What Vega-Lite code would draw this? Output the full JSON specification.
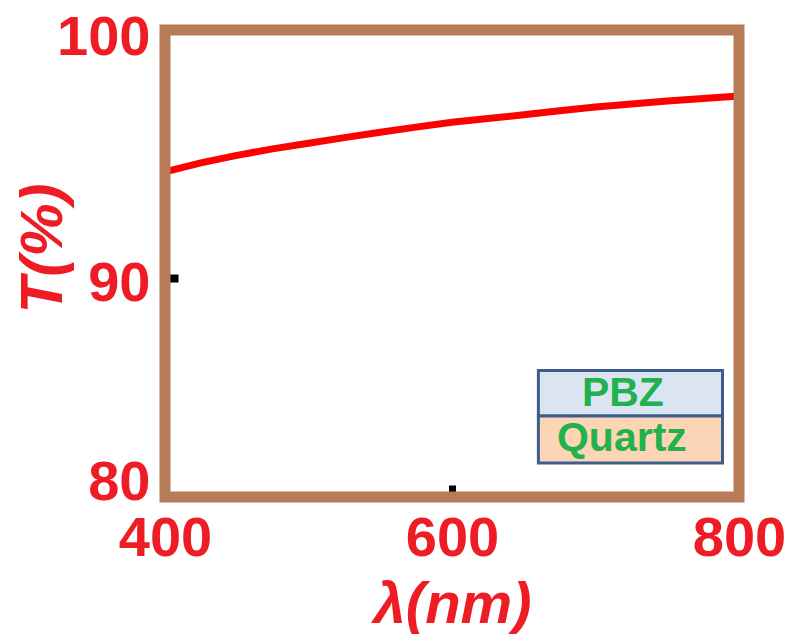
{
  "$schema": "https://vega.github.io/schema/vega-lite/v6.json",
  "autosize": "none",
  "width": 574,
  "height": 467,
  "padding": {"left": 165, "top": 30, "right": 65, "bottom": 137},
  "background": "white",
  "config": {"view": {"stroke": null}},
  "datasets": {
    "curve": [
      {"wavelength": 400, "T": 93.92},
      {"wavelength": 425, "T": 94.31},
      {"wavelength": 450, "T": 94.63},
      {"wavelength": 475, "T": 94.91},
      {"wavelength": 500, "T": 95.15},
      {"wavelength": 525, "T": 95.39},
      {"wavelength": 550, "T": 95.62},
      {"wavelength": 575, "T": 95.84},
      {"wavelength": 600, "T": 96.05},
      {"wavelength": 625, "T": 96.21},
      {"wavelength": 650, "T": 96.37},
      {"wavelength": 675, "T": 96.54},
      {"wavelength": 700, "T": 96.70},
      {"wavelength": 725, "T": 96.83},
      {"wavelength": 750, "T": 96.96},
      {"wavelength": 775, "T": 97.07},
      {"wavelength": 800, "T": 97.17}
    ],
    "box": [
      {"label": "PBZ", "x1": 660.2, "x2": 788.5, "y1": 83.47, "y2": 85.42, "tx": 719.1, "ty": 84.43},
      {"label": "Quartz", "x1": 660.2, "x2": 788.5, "y1": 81.46, "y2": 83.47, "tx": 718.4, "ty": 82.5}
    ]
  },
  "layer": [
    {
      "data": {"name": "curve"},
      "mark": {"type": "line", "color": "#ff0000", "strokeWidth": 7},
      "encoding": {
        "x": {
          "field": "wavelength",
          "type": "quantitative",
          "scale": {"domain": [400, 800], "nice": false, "zero": false},
          "axis": {
            "values": [400, 600, 800],
            "title": "λ(nm)",
            "grid": false,
            "domain": false,
            "labelFont": "Liberation Sans",
            "labelFontWeight": "bold",
            "labelFontSize": 56,
            "labelColor": "#ee1c25",
            "labelFlush": false,
            "labelPadding": 26,
            "tickSize": -12,
            "tickWidth": 7,
            "tickColor": {"condition": {"test": "datum.value === 600", "value": "black"}, "value": "transparent"},
            "titleFont": "Liberation Sans",
            "titleFontWeight": "bold",
            "titleFontStyle": "italic",
            "titleFontSize": 58,
            "titleColor": "#ee1c25",
            "titlePadding": 10
          }
        },
        "y": {
          "field": "T",
          "type": "quantitative",
          "scale": {"domain": [80, 100], "nice": false, "zero": false},
          "axis": {
            "values": [80, 90, 100],
            "title": "T(%)",
            "grid": false,
            "domain": false,
            "labelFont": "Liberation Sans",
            "labelFontWeight": "bold",
            "labelFontSize": 56,
            "labelColor": "#ee1c25",
            "labelFlush": false,
            "labelBaseline": "middle",
            "labelPadding": 28,
            "tickOffset": 14,
            "labelOffset": {"condition": [{"test": "datum.value === 100", "value": -7}, {"test": "datum.value === 90", "value": 6}], "value": -29},
            "tickSize": -13,
            "tickWidth": 8,
            "tickColor": {"condition": {"test": "datum.value === 90", "value": "black"}, "value": "transparent"},
            "titleFont": "Liberation Sans",
            "titleFontWeight": "bold",
            "titleFontStyle": "italic",
            "titleFontSize": 60,
            "titleColor": "#ee1c25",
            "titleBaseline": "middle",
            "titleX": -122,
            "titleY": 218
          }
        }
      }
    },
    {
      "data": {"name": "box"},
      "mark": {"type": "rect", "stroke": "#3d5e8c", "strokeWidth": 3},
      "encoding": {
        "x": {"field": "x1", "type": "quantitative"},
        "x2": {"field": "x2"},
        "y": {"field": "y1", "type": "quantitative"},
        "y2": {"field": "y2"},
        "fill": {"field": "label", "type": "nominal", "scale": {"domain": ["PBZ", "Quartz"], "range": ["#dbe5f2", "#fbd5b5"]}, "legend": null}
      }
    },
    {
      "data": {"name": "box"},
      "mark": {"type": "text", "font": "Liberation Sans", "fontWeight": "bold", "fontSize": 41, "color": "#22b14c", "baseline": "middle", "align": "center"},
      "encoding": {
        "x": {"field": "tx", "type": "quantitative"},
        "y": {"field": "ty", "type": "quantitative"},
        "text": {"field": "label"}
      }
    },
    {
      "data": {"values": [{}]},
      "mark": {"type": "rect", "fill": null, "fillOpacity": 0, "stroke": "#b87b57", "strokeWidth": 11},
      "encoding": {
        "x": {"datum": 400, "type": "quantitative"},
        "x2": {"datum": 800},
        "y": {"datum": 80, "type": "quantitative"},
        "y2": {"datum": 100}
      }
    }
  ]
}
